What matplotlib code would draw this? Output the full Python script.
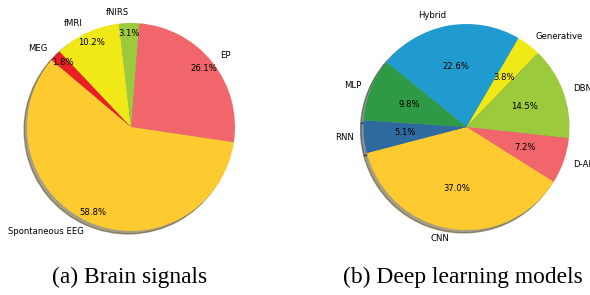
import matplotlib
matplotlib.use("Agg")
import matplotlib.pyplot as plt

# (a) Brain signals (clockwise from top)
sig_labels = ["EP", "Spontaneous EEG", "MEG", "fMRI", "fNIRS"]
sig_values = [26.1, 58.8, 1.8, 10.2, 3.1]
sig_colors = ["#f0666a", "#fdca2f", "#e82024", "#f0e817", "#9bcb3c"]

# (b) Deep learning models (clockwise from upper left)
dl_labels = ["Hybrid", "Generative", "DBN", "D-AE", "CNN", "RNN", "MLP"]
dl_values = [22.6, 3.8, 14.5, 7.2, 37.0, 5.1, 9.8]
dl_colors = ["#1f9bcf", "#f0e817", "#9bcb3c", "#f0666a", "#fdca2f", "#2e6aa0", "#2e9a45"]

captions = ["(a) Brain signals", "(b) Deep learning models"]

W, H = 590, 295
fig = plt.figure(figsize=(W / 100, H / 100), dpi=100)

def make_ax(cx, cy, r):
    half = 1.25 * r
    ax = fig.add_axes([(cx - half) / W, (H - cy - half) / H, 2 * half / W, 2 * half / H])
    return ax

ax1 = make_ax(131, 127, 104)
ax1.pie(sig_values, labels=sig_labels, colors=sig_colors, autopct="%1.1f%%",
        startangle=85.5, counterclock=False, shadow=True, pctdistance=0.9,
        labeldistance=1.1, textprops={"fontsize": 6.1})
ax1.set_xlim(-1.25, 1.25)
ax1.set_ylim(-1.25, 1.25)
ax1.axis("off")

ax2 = make_ax(466.5, 127, 103)
ax2.pie(dl_values, labels=dl_labels, colors=dl_colors, autopct="%1.1f%%",
        startangle=141, counterclock=False, shadow=True, pctdistance=0.6,
        labeldistance=1.1, textprops={"fontsize": 6.1})
ax2.set_xlim(-1.25, 1.25)
ax2.set_ylim(-1.25, 1.25)
ax2.axis("off")

fig.text(130 / W, 1 - 277 / H, captions[0], ha="center", va="center",
         fontsize=16.9, family="Liberation Serif")
fig.text(463 / W, 1 - 277 / H, captions[1], ha="center", va="center",
         fontsize=16.9, family="Liberation Serif")

fig.savefig("out.png", dpi=100)
